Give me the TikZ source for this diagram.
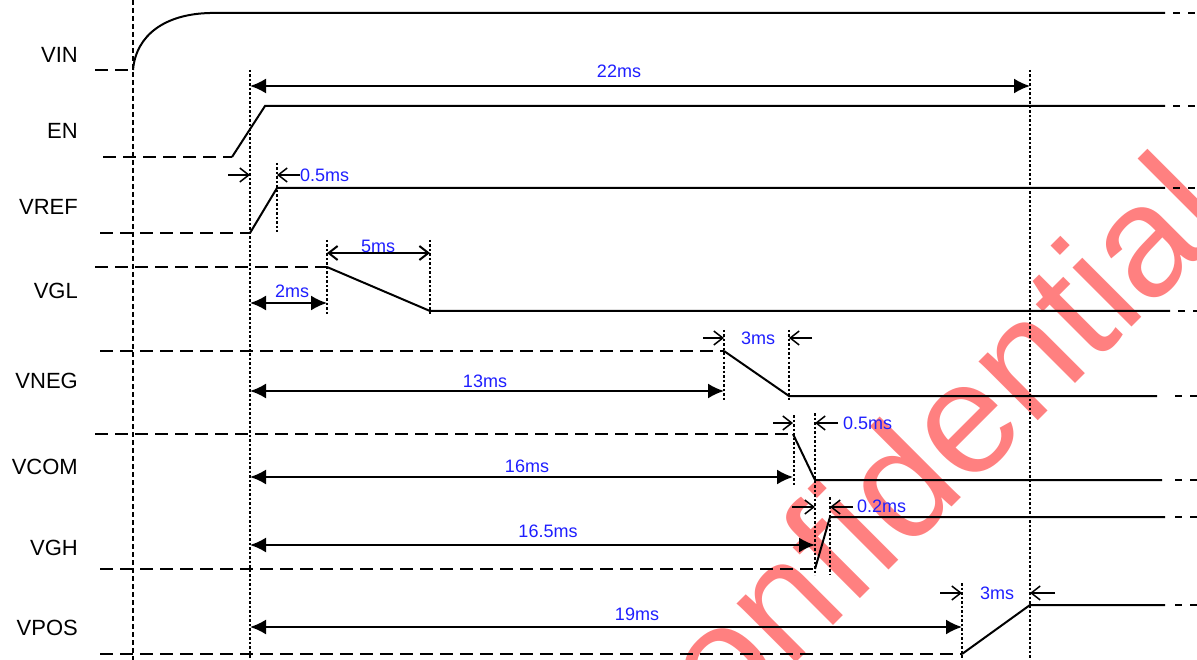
\documentclass[tikz,border=0pt]{standalone}
\usepackage{fontspec}
\setmainfont{Liberation Sans}
\usetikzlibrary{arrows.meta}
\definecolor{tblue}{RGB}{30,30,255}
\definecolor{wmred}{RGB}{255,128,128}
\begin{document}
\begin{tikzpicture}[x=1pt,y=-1pt,
  sig/.style={line width=2pt},
  lowdash/.style={line width=2pt, dash pattern=on 13pt off 7pt},
  vdot/.style={line width=1.5pt, dash pattern=on 2.5pt off 2pt},
  vdash/.style={line width=1.5pt, dash pattern=on 5pt off 3pt},
  taildash/.style={line width=2pt, dash pattern=on 7pt off 8pt},
  dimline/.style={line width=2pt, {Latex[length=16pt,width=15pt]}-{Latex[length=16pt,width=15pt]}},
  opendim/.style={line width=2pt, {Straight Barb[length=9pt,width=14pt]}-{Straight Barb[length=9pt,width=14pt]}},
  tickarrow/.style={line width=1.5pt, -{Straight Barb[length=9pt,width=14pt]}},
  lab/.style={font=\fontsize{22}{24}\selectfont, anchor=east, inner sep=0pt},
  tlab/.style={font=\fontsize{18}{20}\selectfont, text=tblue, inner sep=0pt},
]
\useasboundingbox (0,0) rectangle (1197,660);

% watermark
\node[text=wmred, font=\fontsize{158}{160}\selectfont, rotate=45, anchor=base, inner sep=0pt] (wm) at (941,518) {Confidential};

% signal labels
\node[lab] (lVIN) at (78,55) {VIN};
\node[lab] (lEN) at (78,131) {EN};
\node[lab] (lVREF) at (78,207) {VREF};
\node[lab] (lVGL) at (78,291) {VGL};
\node[lab] (lVNEG) at (78,381) {VNEG};
\node[lab] (lVCOM) at (78,467) {VCOM};
\node[lab] (lVGH) at (78,548) {VGH};
\node[lab] (lVPOS) at (78,628) {VPOS};

% vertical reference lines
\coordinate (v0t) at (133,0); \coordinate (v0b) at (133,660);
\draw[vdash] (v0t) -- (v0b);
\coordinate (v1t) at (250,70); \coordinate (v1b) at (250,660);
\draw[vdot] (v1t) -- (v1b);
\coordinate (v2t) at (1030,70); \coordinate (v2b) at (1030,660);
\draw[vdot] (v2t) -- (v2b);
\draw[vdot] (277,163) coordinate (a1) -- (277,232) coordinate (a2);
\draw[vdot] (327,240) coordinate (b1) -- (327,316) coordinate (b2);
\draw[vdot] (430,240) coordinate (c1) -- (430,316) coordinate (c2);
\draw[vdot] (724,330) coordinate (d1) -- (724,400) coordinate (d2);
\draw[vdot] (789,330) coordinate (e1) -- (789,400) coordinate (e2);
\draw[vdot] (794,415) coordinate (f1) -- (794,485) coordinate (f2);
\draw[vdot] (815,413) coordinate (g1) -- (815,575) coordinate (g2);
\draw[vdot] (830,497) coordinate (h1) -- (830,575) coordinate (h2);
\draw[vdot] (962,583) coordinate (i1) -- (962,660) coordinate (i2);

% VIN
\draw[lowdash] (95,70) -- (133,70);
\draw[sig] (133,70) .. controls (136,35) and (165,14) .. (210,13) -- (1165,13);
\draw[taildash] (1173,13) -- (1197,13);
% EN
\draw[lowdash] (103,157) -- (232,157);
\draw[sig] (232,157) -- (265,106) -- (1165,106);
\draw[taildash] (1173,106) -- (1197,106);
% VREF
\draw[lowdash] (100,233) -- (250,233);
\draw[sig] (250,233) -- (277,188) -- (1165,188);
\draw[taildash] (1173,188) -- (1197,188);
% VGL
\draw[lowdash] (95,267) -- (327,267);
\draw[sig] (327,267) -- (430,311) -- (1170,311);
\draw[taildash] (1178,311) -- (1197,311);
% VNEG
\draw[lowdash] (100,351) -- (724,351);
\draw[sig] (724,351) -- (789,396) -- (1157,396);
\draw[taildash] (1175,396) -- (1197,396);
% VCOM
\draw[lowdash] (95,434) -- (793,434);
\draw[sig] (793,434) -- (815,480) -- (1162,480);
\draw[taildash] (1175,480) -- (1197,480);
% VGH
\draw[lowdash] (100,569) -- (815,569);
\draw[sig] (815,569) -- (830,517) -- (1165,517);
\draw[taildash] (1175,517) -- (1197,517);
% VPOS
\draw[lowdash] (100,654) -- (962,654);
\draw[sig] (962,654) -- (1030,605) -- (1165,605);
\draw[taildash] (1175,605) -- (1197,605);

% long dimension arrows
\draw[dimline] (250,86) coordinate (s22) -- (1030,86) coordinate (e22);
\node[tlab] (t22) at (619,71) {22ms};
\draw[dimline] (250,303) -- (327,303);
\node[tlab] (t2) at (292,291) {2ms};
\draw[opendim] (327,253) -- (430,253);
\node[tlab] (t5) at (378,246) {5ms};
\draw[dimline] (250,391) -- (724,391);
\node[tlab] (t13) at (485,381) {13ms};
\draw[dimline] (250,477) -- (793,477);
\node[tlab] (t16) at (527,466) {16ms};
\draw[dimline] (250,545) -- (815,545);
\node[tlab] (t165) at (548,531) {16.5ms};
\draw[dimline] (250,627) -- (962,627);
\node[tlab] (t19) at (637,614) {19ms};

% small interval markers
\draw[tickarrow] (228,175) -- (250,175);
\draw[tickarrow] (300,175) -- (277,175);
\node[tlab, anchor=west] (t05a) at (300,175) {0.5ms};
\draw[tickarrow] (703,338) -- (724,338);
\draw[tickarrow] (812,338) -- (789,338);
\node[tlab] (t3a) at (758,338) {3ms};
\draw[tickarrow] (773,423) -- (793,423);
\draw[tickarrow] (838,423) -- (815,423);
\node[tlab, anchor=west] (t05b) at (843,423) {0.5ms};
\draw[tickarrow] (792,507) -- (815,507);
\draw[tickarrow] (853,507) -- (830,507);
\node[tlab, anchor=west] (t02) at (857,506) {0.2ms};
\draw[tickarrow] (940,593) -- (962,593);
\draw[tickarrow] (1055,593) -- (1030,593);
\node[tlab] (t3b) at (997,593) {3ms};
\end{tikzpicture}
\end{document}
